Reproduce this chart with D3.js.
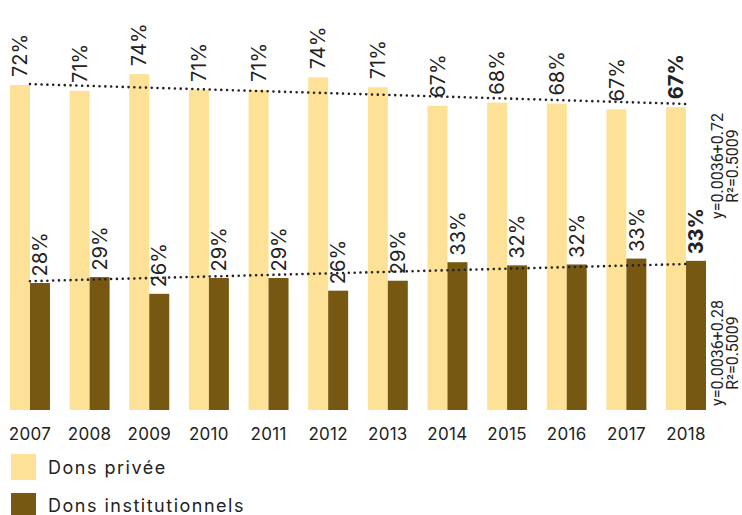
<!DOCTYPE html>
<html>
<head>
<meta charset="utf-8">
<script src="https://cdn.jsdelivr.net/npm/d3@7"></script>
<style>
  html, body { margin: 0; padding: 0; background: #fff; }
  svg { display: block; font-family: Inter, Roboto, "Noto Sans", sans-serif; }
</style>
</head>
<body>
<svg id="chart" width="742" height="515"></svg>
<script>
const years = ["2007","2008","2009","2010","2011","2012","2013","2014","2015","2016","2017","2018"];
const privee = [0.719, 0.706, 0.743, 0.708, 0.708, 0.736, 0.714, 0.673, 0.680, 0.678, 0.665, 0.670];
const institutionnels = [0.281, 0.294, 0.257, 0.292, 0.292, 0.264, 0.286, 0.327, 0.320, 0.322, 0.335, 0.330];
const priveeLabels = ["72%","71%","74%","71%","71%","74%","71%","67%","68%","68%","67%","67%"];
const instLabels = ["28%","29%","26%","29%","29%","26%","29%","33%","32%","32%","33%","33%"];
const trendPrivee = [0.721, 0.677];
const trendInst = [0.285, 0.323];
const eqPrivee = ["y=0.0036+0.72", "R\u00B2=0.5009"];
const eqInst = ["y=0.0036+0.28", "R\u00B2=0.5009"];
const seriesNames = ["Dons privée", "Dons institutionnels"];

const colLight = "#fce196";
const colDark = "#775812";
const ink = "#222";

const svg = d3.select("#chart");

const x = d3.scaleBand().domain(years).range([10, 706]).paddingInner(0.33).paddingOuter(0);
const y = d3.scaleLinear().domain([0, 1]).range([410, -42]);
const bw = x.bandwidth() / 2;

// bars
const g = svg.append("g");
g.selectAll("rect.p").data(years).join("rect")
  .attr("x", d => x(d)).attr("width", bw)
  .attr("y", (d, i) => y(privee[i])).attr("height", (d, i) => y(0) - y(privee[i]))
  .attr("fill", colLight);
g.selectAll("rect.i").data(years).join("rect")
  .attr("x", d => x(d) + bw).attr("width", bw)
  .attr("y", (d, i) => y(institutionnels[i])).attr("height", (d, i) => y(0) - y(institutionnels[i]))
  .attr("fill", colDark);

// value labels
const last = years.length - 1;
g.selectAll("text.pl").data(years).join("text")
  .attr("transform", (d, i) => `translate(${x(d) + bw / 2},${y(privee[i]) - 8}) rotate(-90)`)
  .attr("dy", "0.36em")
  .attr("font-size", 20)
  .attr("font-weight", (d, i) => i === last ? "bold" : "normal")
  .attr("fill", ink)
  .text((d, i) => priveeLabels[i]);
g.selectAll("text.il").data(years).join("text")
  .attr("transform", (d, i) => `translate(${x(d) + bw * 1.5},${y(institutionnels[i]) - 6.5}) rotate(-90)`)
  .attr("dy", "0.36em")
  .attr("font-size", 20)
  .attr("font-weight", (d, i) => i === last ? "bold" : "normal")
  .attr("fill", ink)
  .text((d, i) => instLabels[i]);

// trend lines
const cx0 = x(years[0]) + bw, cx1 = x(years[last]) + bw;
[trendPrivee, trendInst].forEach(t => {
  svg.append("line")
    .attr("x1", cx0).attr("x2", cx1 + 1)
    .attr("y1", y(t[0])).attr("y2", y(t[1]))
    .attr("stroke", ink).attr("stroke-width", 2.6)
    .attr("stroke-linecap", "round").attr("stroke-dasharray", "0,5.8");
});

// equations
function eq(lines, cy) {
  lines.forEach((s, k) => {
    svg.append("text")
      .attr("transform", `translate(${717 + k * 15},${cy}) rotate(-90)`)
      .attr("dy", "0.36em")
      .attr("text-anchor", "middle")
      .attr("font-size", 16)
      .attr("font-family", "Roboto, sans-serif")
      .attr("fill", ink)
      .text(s);
  });
}
eq(eqPrivee, 166);
eq(eqInst, 353);

// x axis labels
const xAxis = d3.axisBottom(x).tickSize(0).tickPadding(0);
const ax = svg.append("g").attr("transform", "translate(0,428)").call(xAxis);
ax.select(".domain").remove();
ax.selectAll("text").attr("font-size", 17).attr("fill", ink)
  .attr("font-family", "Inter, Roboto, sans-serif").attr("dy", "0.71em")
  .attr("letter-spacing", "0.3px");

// legend
const leg = svg.append("g");
[colLight, colDark].forEach((c, k) => {
  leg.append("rect").attr("x", 11).attr("y", 454 + k * 39).attr("width", 25).attr("height", 26).attr("fill", c);
  leg.append("text").attr("x", 48).attr("y", 474 + k * 37.7).attr("font-size", 18)
    .attr("letter-spacing", "1.5px").attr("fill", ink).text(seriesNames[k]);
});
</script>
</body>
</html>
